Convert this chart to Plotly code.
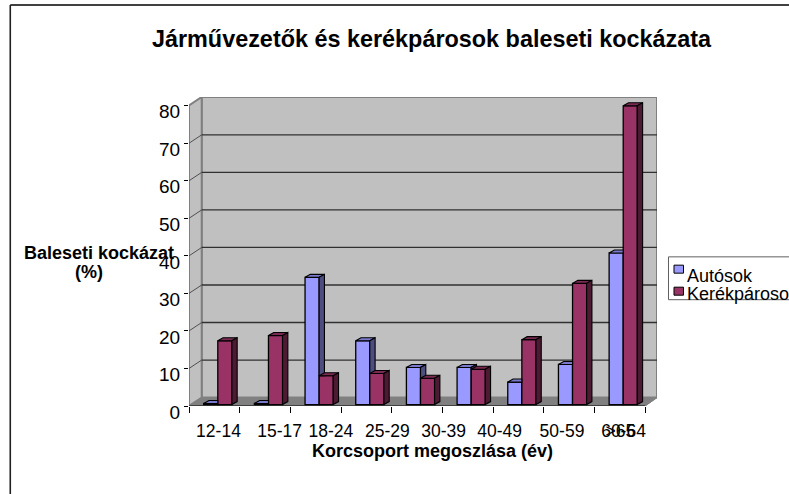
import plotly.graph_objects as go

categories = ["12-14", "15-17", "18-24", "25-29", "30-39", "40-49", "50-59", "60-64", ">65"]
autosok = [0.3, 0.3, 33.9, 17.0, 9.9, 9.9, 6.0, 10.7, 40.4]
kerekparosok = [17.0, 18.4, 7.7, 8.3, 7.0, 9.4, 17.3, 32.3, 79.6]
y_ticks = [0, 10, 20, 30, 40, 50, 60, 70, 80]

# --- layout constants (pixels of the 789x494 picture) ---
W, H = 789, 494
PX_L, PX_R, PX_T, PX_B = 189.3, 657.5, 97.0, 405.7
PX_PER_CAT, PX_PER_UNIT = 50.7, 3.75
DEPTH_X, DEPTH_Y = 12.7 / PX_PER_CAT, 8.4 / PX_PER_UNIT      # wall depth
BAR_DX, BAR_DY = 5.3 / PX_PER_CAT, 3.0 / PX_PER_UNIT         # bar depth
BAR_BASE = 1.4 / PX_PER_UNIT
BAR_W = 14.1 / PX_PER_CAT
BAR_START = 14.7 / PX_PER_CAT
label_shift = [0.082, 0.289, 0.30, 0.413, 0.524, 0.628, 0.86, 1.074, 0.01]
N = len(categories)

X_MAX = (PX_R - PX_L) / PX_PER_CAT
Y_MAX = (PX_B - PX_T) / PX_PER_UNIT

BLUE, BLUE_TOP, BLUE_SIDE = "#9999FF", "#7A7ACC", "#4D4D80"
RED, RED_TOP, RED_SIDE = "#993366", "#7A2952", "#4D1A33"
WALL, FLOOR, EDGE = "#C0C0C0", "#808080", "#808080"
FONT = "Liberation Sans"


def px(x):
    return (x - PX_L) / (PX_R - PX_L)


def py(y):
    return (PX_B - y) / (PX_B - PX_T)


def poly(points):
    return "M" + "L".join(f"{a},{b}" for a, b in points) + "Z"


shapes = []
# back wall, left wall, floor
shapes.append(dict(type="path", xref="x", yref="y", layer="below", fillcolor=WALL,
                   line=dict(color=EDGE, width=2),
                   path=poly([(DEPTH_X, DEPTH_Y), (X_MAX, DEPTH_Y), (X_MAX, Y_MAX), (DEPTH_X, Y_MAX)])))
shapes.append(dict(type="path", xref="x", yref="y", layer="below", fillcolor=WALL,
                   line=dict(color=EDGE, width=2),
                   path=poly([(0, 0), (DEPTH_X, DEPTH_Y), (DEPTH_X, Y_MAX), (0, Y_MAX - DEPTH_Y)])))
shapes.append(dict(type="path", xref="x", yref="y", layer="below", fillcolor=FLOOR,
                   line=dict(color=FLOOR, width=1),
                   path=poly([(0, 0), (N, 0), (X_MAX, DEPTH_Y), (DEPTH_X, DEPTH_Y)])))
# gridlines with their diagonal on the left wall
for v in y_ticks[1:-1]:
    shapes.append(dict(type="line", xref="x", yref="y", layer="below",
                       x0=DEPTH_X, x1=X_MAX, y0=v + DEPTH_Y, y1=v + DEPTH_Y,
                       line=dict(color="#303030", width=1.3)))
    shapes.append(dict(type="line", xref="x", yref="y", layer="below",
                       x0=0, x1=DEPTH_X, y0=v, y1=v + DEPTH_Y,
                       line=dict(color="#505050", width=1)))
# pale patches on the wall edges behind the axis title
shapes.append(dict(type="rect", xref="paper", yref="paper", layer="below",
                   x0=px(188), x1=px(191), y0=py(238), y1=py(260),
                   fillcolor="#FFFFFF", line=dict(width=0)))
shapes.append(dict(type="rect", xref="paper", yref="paper", layer="below",
                   x0=px(201), x1=px(203.5), y0=py(238), y1=py(250),
                   fillcolor="#D8D8D8", line=dict(width=0)))
# front floor edge
shapes.append(dict(type="line", xref="x", yref="y", layer="above",
                   x0=0, x1=N, y0=0, y1=0, line=dict(color="#000000", width=1.2)))
shapes.append(dict(type="line", xref="x", yref="y", layer="above",
                   x0=N, x1=X_MAX, y0=0, y1=DEPTH_Y, line=dict(color=EDGE, width=1)))
# outer picture frame
shapes.append(dict(type="line", xref="paper", yref="paper", x0=px(10.5), x1=px(W + 5), y0=py(5), y1=py(5),
                   line=dict(color="#000000", width=1.5)))
shapes.append(dict(type="line", xref="paper", yref="paper", x0=px(10.5), x1=px(10.5), y0=py(5), y1=py(H + 5),
                   line=dict(color="#202020", width=1.6)))
# legend frame, running off the picture
for (a, b, c, d) in [(669, 256.7, W + 5, 256.7), (669, 256.7, 669, 299.5), (669, 299.5, W + 5, 299.5)]:
    shapes.append(dict(type="line", xref="paper", yref="paper", x0=px(a), y0=py(b), x1=px(c), y1=py(d),
                       line=dict(color="#606060", width=1)))
# legend swatches
for (y0, y1, col) in [(265, 273, BLUE), (287, 295, RED)]:
    shapes.append(dict(type="rect", xref="paper", yref="paper", x0=px(674.5), x1=px(684), y0=py(y0), y1=py(y1),
                       fillcolor=col, line=dict(color="#000000", width=1)))

fig = go.Figure()
xs = [i + BAR_START for i in range(N)]
xs2 = [x + BAR_W for x in xs]
for name, x, vals, col in [("Autósok", xs, autosok, BLUE), ("Kerékpárosok", xs2, kerekparosok, RED)]:
    fig.add_trace(go.Bar(name=name, x=x, y=vals, base=BAR_BASE, width=BAR_W, offset=0,
                         marker=dict(color=col, line=dict(color="#000000", width=1.3)),
                         showlegend=False))


def face(points, col):
    a = [p[0] for p in points] + [points[0][0]]
    b = [p[1] for p in points] + [points[0][1]]
    fig.add_trace(go.Scatter(x=a, y=b, mode="lines", fill="toself", fillcolor=col,
                             line=dict(color="#000000", width=1.1), showlegend=False, hoverinfo="skip"))


for i in range(N):
    l, r = xs[i], xs[i] + BAR_W
    bt = BAR_BASE + autosok[i]
    rt = BAR_BASE + kerekparosok[i]
    # blue faces, cut where the red bar stands in front of them
    if rt >= bt:
        face([(l, bt), (r, bt), (r, bt + BAR_DY), (l + BAR_DX, bt + BAR_DY)], BLUE_TOP)
    else:
        face([(l, bt), (r, bt), (r + BAR_DX, bt + BAR_DY), (l + BAR_DX, bt + BAR_DY)], BLUE_TOP)
        face([(r, rt), (r, bt), (r + BAR_DX, bt + BAR_DY), (r + BAR_DX, rt)], BLUE_SIDE)
    # red faces
    l2, r2 = r, r + BAR_W
    face([(l2, rt), (r2, rt), (r2 + BAR_DX, rt + BAR_DY), (l2 + BAR_DX, rt + BAR_DY)], RED_TOP)
    face([(r2, BAR_BASE), (r2, rt), (r2 + BAR_DX, rt + BAR_DY), (r2 + BAR_DX, BAR_BASE + BAR_DY)], RED_SIDE)

annotations = [
    dict(text="<b>Korcsoport megoszlása (év)</b>", xref="paper", yref="paper", x=px(433), y=py(451),
         xanchor="center", yanchor="middle", showarrow=False, font=dict(family=FONT, size=18, color="#000000")),
    dict(text="<b>Baleseti kockázat</b>", xref="paper", yref="paper", x=px(99), y=py(253),
         xanchor="center", yanchor="middle", showarrow=False,
         font=dict(family=FONT, size=18, color="#000000")),
    dict(text="<b>(%)</b>", xref="paper", yref="paper", x=px(89), y=py(272),
         xanchor="center", yanchor="middle", showarrow=False,
         font=dict(family=FONT, size=18, color="#000000")),
    dict(text="Autósok", xref="paper", yref="paper", x=px(686), y=py(275.5),
         xanchor="left", yanchor="middle", showarrow=False, font=dict(family=FONT, size=18, color="#000000")),
    dict(text="Kerékpárosok", xref="paper", yref="paper", x=px(686), y=py(294),
         xanchor="left", yanchor="middle", showarrow=False, font=dict(family=FONT, size=18, color="#000000")),
]

fig.update_layout(
    width=W, height=H, autosize=False,
    margin=dict(l=PX_L, r=W - PX_R, t=PX_T, b=H - PX_B, pad=0, autoexpand=False),
    paper_bgcolor="#FFFFFF", plot_bgcolor="#FFFFFF",
    barmode="overlay", showlegend=False,
    title=dict(text="<b>Járművezetők és kerékpárosok baleseti kockázata</b>",
               x=431.5 / W, y=1 - 39 / H, xanchor="center", yanchor="middle", xref="container",
               font=dict(family=FONT, size=23.4, color="#000000")),
    font=dict(family=FONT, size=18, color="#000000"),
    shapes=shapes, annotations=annotations,
    xaxis=dict(range=[0, X_MAX], tickmode="array",
               tickvals=[i + 0.5 + s for i, s in enumerate(label_shift)], ticktext=categories,
               tickangle=0, ticks="outside", ticklen=8.5, tickcolor="rgba(0,0,0,0)",
               tickfont=dict(family=FONT, size=17.5, color="#000000"),
               showgrid=False, zeroline=False, showline=False,
               minor=dict(tickmode="array", tickvals=list(range(N + 1)), ticks="outside", ticklen=6,
                          tickcolor="#000000", tickwidth=1, showgrid=False)),
    yaxis=dict(range=[0, Y_MAX], tickmode="array", tickvals=y_ticks, ticks="outside", ticklen=4,
               tickcolor="#000000", showgrid=False, zeroline=False, showline=False, ticklabelshift=6,
               tickfont=dict(family=FONT, size=19, color="#000000")),
)

fig.write_html("out.html", config=dict(displayModeBar=False),
               post_script="document.body.style.margin='0';")
